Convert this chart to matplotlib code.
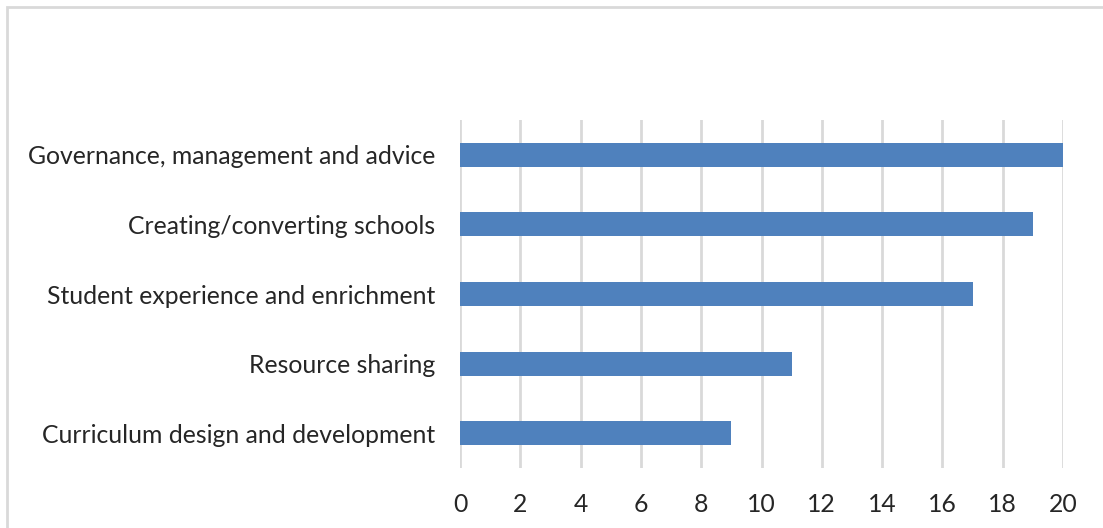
import matplotlib
matplotlib.use('Agg')
import matplotlib.pyplot as plt
from matplotlib.patches import Rectangle

categories = ['Curriculum design and development', 'Resource sharing',
              'Student experience and enrichment', 'Creating/converting schools',
              'Governance, management and advice']
values = [9, 11, 17, 19, 20]
xticks = [0, 2, 4, 6, 8, 10, 12, 14, 16, 18, 20]

plt.rcParams['font.family'] = ['Lato', 'DejaVu Sans']

fig = plt.figure(figsize=(11.03, 5.28), dpi=100)
ax = fig.add_axes([460 / 1103, 1 - 468 / 528, 603 / 1103, 348 / 528])

ax.barh(range(len(categories)), values, height=0.345, color='#4F81BD', zorder=3)
ax.set_xlim(0, 20)
ax.set_ylim(-0.5, len(categories) - 0.5)
ax.set_xticks(xticks)
ax.set_yticks(range(len(categories)))
ax.set_yticklabels(categories)
ax.grid(axis='x', color='#D9D9D9', linewidth=2, zorder=0)
ax.grid(axis='y', visible=False)
for s in ax.spines.values():
    s.set_visible(False)
ax.tick_params(axis='both', length=0, labelsize=17.8, colors='#262626')
ax.tick_params(axis='x', pad=18)
ax.tick_params(axis='y', pad=18)

# outer chart border
fig.patches.append(Rectangle((7 / 1103, -0.1), 1.2, 1 - 7 / 528 + 0.1,
                             transform=fig.transFigure, fill=False,
                             edgecolor='#D9D9D9', linewidth=2))

fig.savefig('out.png', dpi=100)
